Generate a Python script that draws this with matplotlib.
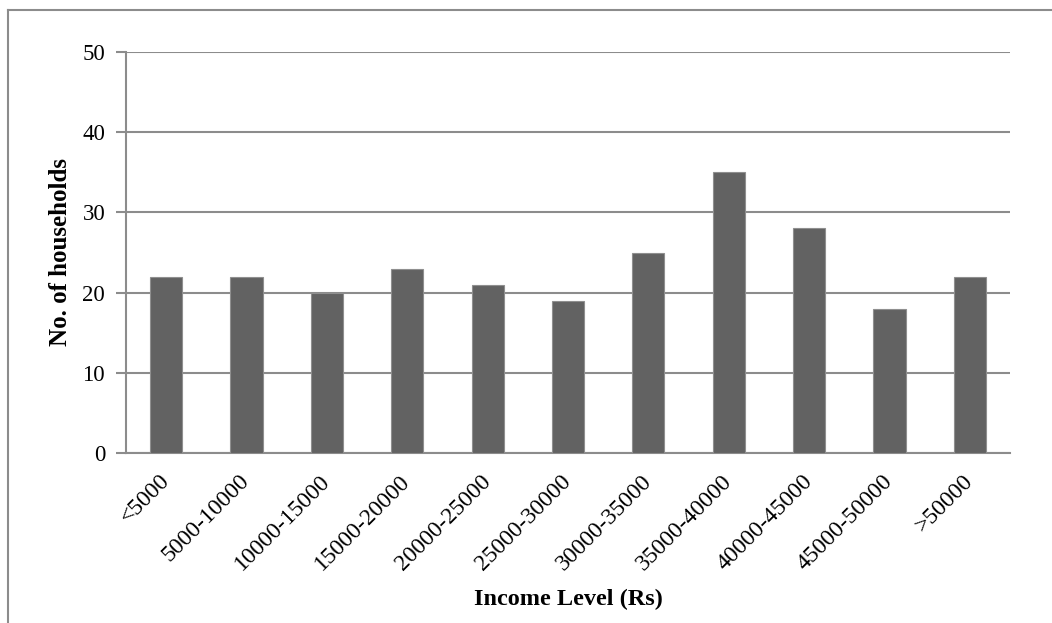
import matplotlib
matplotlib.use("Agg")
import matplotlib.pyplot as plt
from matplotlib.lines import Line2D
import numpy as np

categories = ["<5000", "5000-10000", "10000-15000", "15000-20000", "20000-25000",
              "25000-30000", "30000-35000", "35000-40000", "40000-45000",
              "45000-50000", ">50000"]
households = [22, 22, 20, 23, 21, 19, 25, 35, 28, 18, 22]
y_ticks = [0, 10, 20, 30, 40, 50]

plt.rcParams['font.family'] = ['Liberation Serif', 'DejaVu Serif']

W, H = 1052, 623
fig = plt.figure(figsize=(W / 100, H / 100), dpi=100)
fig.patch.set_facecolor('white')

ax = fig.add_axes([126 / W, 1 - 453 / H, (1010 - 126) / W, (453 - 52) / H])

x = np.arange(len(categories))
ax.bar(x, households, width=0.4, color='#626262', edgecolor='#8f8f8f',
       linewidth=0.8, zorder=3)

ax.set_xlim(-0.5, len(categories) - 0.5)
ax.set_ylim(0, 50)
ax.set_yticks(y_ticks)
ax.set_yticklabels([str(v) for v in y_ticks], fontsize=16.5)
ax.yaxis.grid(True, color='#8c8c8c', linewidth=1.5, zorder=0)
ax.set_axisbelow(True)

ax.set_xticks(x)
ax.set_xticklabels(categories, fontsize=17, rotation=45, ha='right',
                   va='center', rotation_mode='anchor')
ax.tick_params(axis='x', length=0, pad=18)
ax.tick_params(axis='y', length=7, width=1.5, color='#8c8c8c', pad=8)

for side in ['top', 'right']:
    ax.spines[side].set_visible(False)
for side in ['left', 'bottom']:
    ax.spines[side].set_color('#8c8c8c')
    ax.spines[side].set_linewidth(1.5)

ax.set_ylabel('No. of households', fontsize=18, fontweight='bold')
ax.set_xlabel('Income Level (Rs)', fontsize=17.5, fontweight='bold')
ax.xaxis.set_label_coords(0.5, -(589 - 453) / (453 - 52))
ax.yaxis.set_label_coords(-(126 - 72) / (1010 - 126), 0.5)

# outer chart border (left and top visible)
fig.add_artist(Line2D([8 / W, 8 / W], [0, 1 - 10 / H], transform=fig.transFigure,
                      color='#8c8c8c', linewidth=1.5))
fig.add_artist(Line2D([8 / W, 1], [1 - 10 / H, 1 - 10 / H], transform=fig.transFigure,
                      color='#8c8c8c', linewidth=1.5))

fig.savefig('out.png', dpi=100, facecolor='white')
